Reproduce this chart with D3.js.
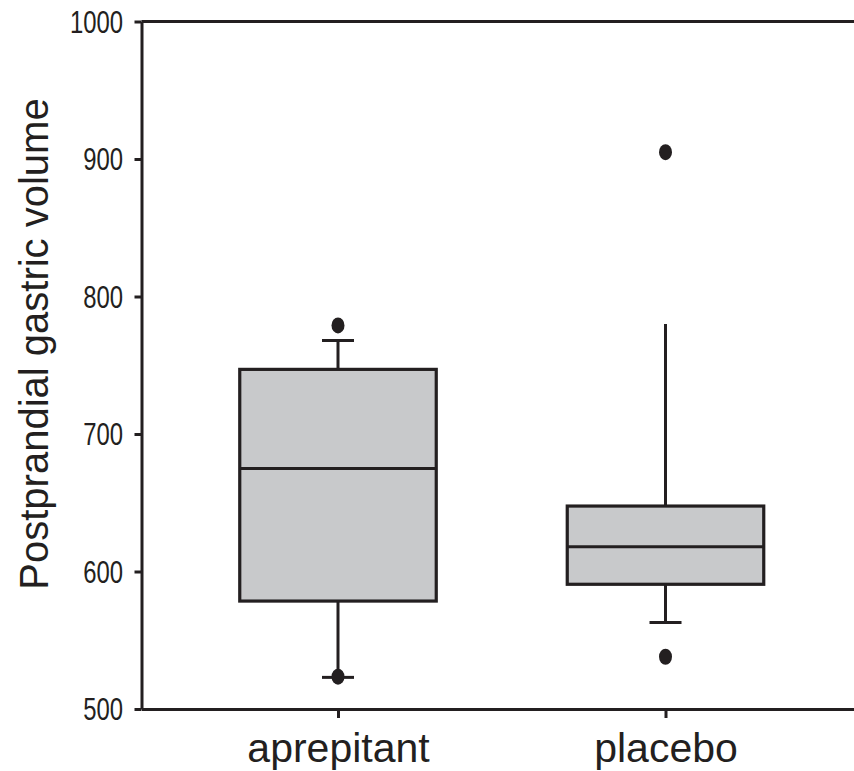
<!DOCTYPE html>
<html>
<head>
<meta charset="utf-8">
<script src="https://cdn.jsdelivr.net/npm/d3@7"></script>
<style>
  html, body { margin: 0; padding: 0; background: #ffffff; }
  svg { display: block; }
</style>
</head>
<body>
<script>
// ---- data ----
const categories = ["aprepitant", "placebo"];
const q1Values = [578.5, 590.7];
const medianValues = [675, 618];
const q3Values = [747, 647.6];
const whiskerLow = [523, 563];
const whiskerHigh = [768, 780];
const upperCap = [true, false];
const outlierValues = [[779, 523.5], [905, 538]];
const yTicks = [500, 600, 700, 800, 900, 1000];
const yTitle = "Postprandial gastric volume";

// ---- layout ----
const W = 854, H = 771;
const ink = "#231f20";
const boxFill = "#c8c9cb";

const svg = d3.select("body").append("svg").attr("width", W).attr("height", H);
svg.append("rect").attr("width", W).attr("height", H).attr("fill", "#fff");

const plotLeft = 141.5, plotTop = 21.5, plotBottom = 709;
const y = d3.scaleLinear().domain([500, 1000]).range([plotBottom, plotTop]);
const x = d3.scalePoint().domain(categories).range([plotLeft, 862]).padding(0.6);
const step = x.step();
const boxW = step * 0.6;
const capW = 32;

// top frame line
svg.append("line")
  .attr("x1", plotLeft).attr("x2", W + 5)
  .attr("y1", y(1000)).attr("y2", y(1000))
  .attr("stroke", ink).attr("stroke-width", 3);

// y axis
const yAxis = svg.append("g")
  .attr("transform", `translate(${plotLeft},0)`)
  .call(d3.axisLeft(y).tickValues(yTicks).tickSize(7).tickSizeOuter(0).tickFormat(d3.format("d")));
yAxis.select(".domain").attr("stroke", ink).attr("stroke-width", 3);
yAxis.selectAll(".tick line").attr("stroke", ink).attr("stroke-width", 3);
yAxis.selectAll(".tick text")
  .attr("fill", ink)
  .attr("font-family", "'Liberation Sans', Arial, sans-serif")
  .attr("font-size", 31)
  .attr("x", -18.5 / 0.77)
  .attr("dy", "0.34em")
  .attr("transform", "scale(0.77,1)");

// x axis
const xAxis = svg.append("g")
  .attr("transform", `translate(0,${plotBottom})`)
  .call(d3.axisBottom(x).tickSize(9).tickSizeOuter(0));
xAxis.select(".domain").attr("stroke", ink).attr("stroke-width", 3);
xAxis.selectAll(".tick line").attr("stroke", ink).attr("stroke-width", 3);
xAxis.selectAll(".tick text")
  .attr("fill", ink)
  .attr("font-family", "'Liberation Sans', Arial, sans-serif")
  .attr("font-size", 41)
  .attr("y", 0)
  .attr("dy", 53);

// y title
svg.append("text")
  .attr("transform", `translate(48,${(100 + 588) / 2}) rotate(-90)`)
  .attr("text-anchor", "middle")
  .attr("font-family", "'Liberation Sans', Arial, sans-serif")
  .attr("font-size", 40)
  .attr("fill", ink)
  .text(yTitle);

// boxes
const data = categories.map((c, i) => ({
  c, q1: q1Values[i], med: medianValues[i], q3: q3Values[i],
  lo: whiskerLow[i], hi: whiskerHigh[i], cap: upperCap[i], out: outlierValues[i]
}));

const g = svg.append("g");
data.forEach(d => {
  const cx = x(d.c);
  // whiskers
  g.append("line").attr("x1", cx).attr("x2", cx).attr("y1", y(d.q3)).attr("y2", y(d.hi))
    .attr("stroke", ink).attr("stroke-width", 3);
  g.append("line").attr("x1", cx).attr("x2", cx).attr("y1", y(d.q1)).attr("y2", y(d.lo))
    .attr("stroke", ink).attr("stroke-width", 3);
  if (d.cap) {
    g.append("line").attr("x1", cx - capW / 2).attr("x2", cx + capW / 2)
      .attr("y1", y(d.hi)).attr("y2", y(d.hi)).attr("stroke", ink).attr("stroke-width", 3);
  }
  g.append("line").attr("x1", cx - capW / 2).attr("x2", cx + capW / 2)
    .attr("y1", y(d.lo)).attr("y2", y(d.lo)).attr("stroke", ink).attr("stroke-width", 3);
  // box
  g.append("rect")
    .attr("x", cx - boxW / 2).attr("width", boxW)
    .attr("y", y(d.q3)).attr("height", y(d.q1) - y(d.q3))
    .attr("fill", boxFill).attr("stroke", ink).attr("stroke-width", 3.2);
  // median
  g.append("line").attr("x1", cx - boxW / 2).attr("x2", cx + boxW / 2)
    .attr("y1", y(d.med)).attr("y2", y(d.med)).attr("stroke", ink).attr("stroke-width", 3);
  // outliers
  d.out.forEach(v => {
    g.append("ellipse").attr("cx", cx).attr("cy", y(v)).attr("rx", 6.5).attr("ry", 8)
      .attr("fill", ink);
  });
});
</script>
</body>
</html>
